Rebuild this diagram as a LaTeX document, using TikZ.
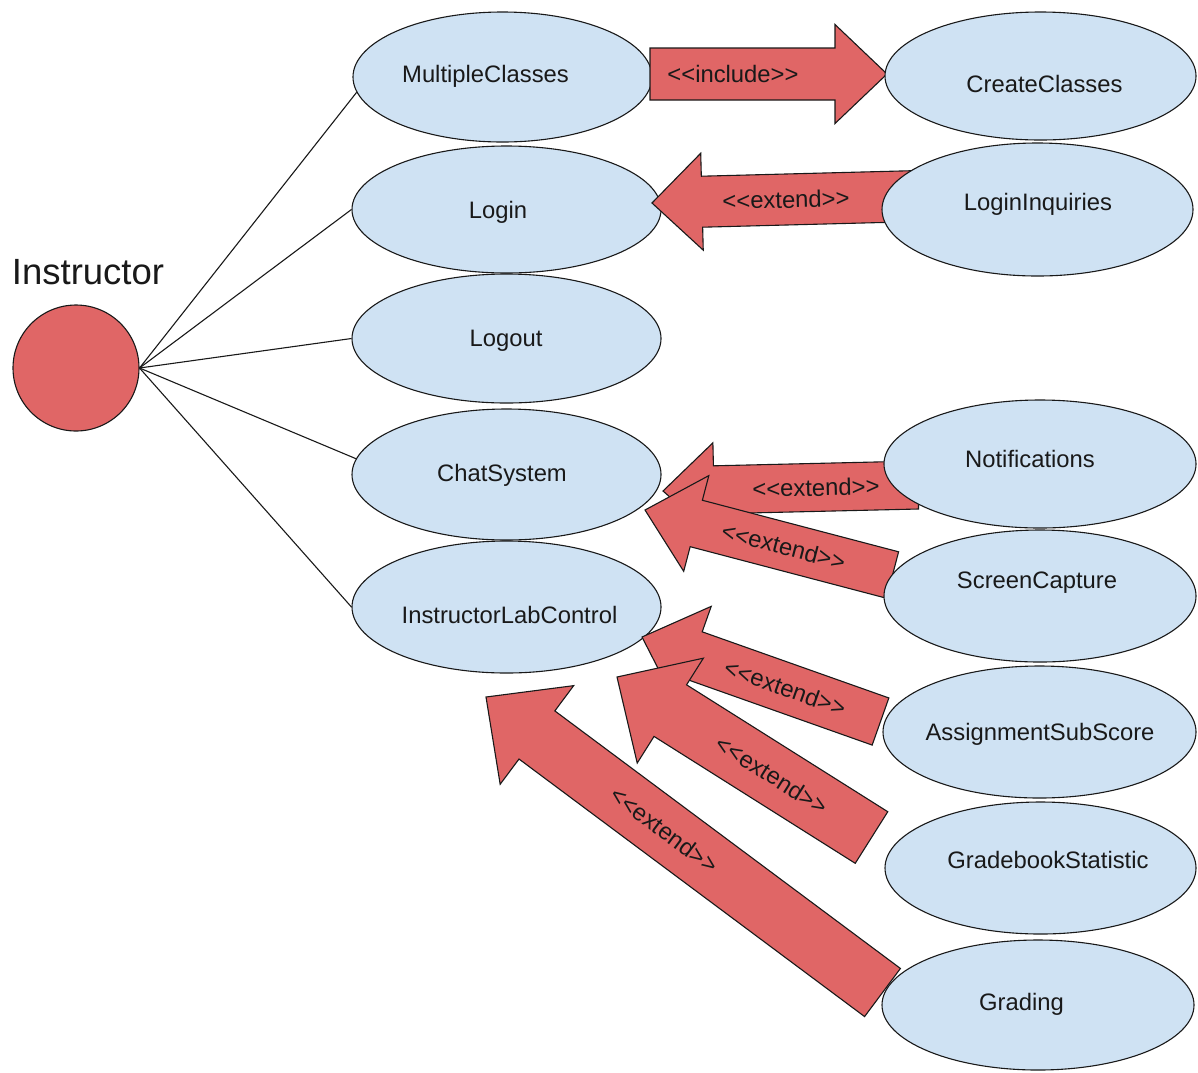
\documentclass[tikz,border=0pt]{standalone}
\usepackage{fontspec}
\setmainfont{Liberation Sans}
\usetikzlibrary{calc,shapes.geometric}

\definecolor{ucblue}{HTML}{CFE2F3}
\definecolor{ucred}{HTML}{E06666}

\tikzset{
  usecase/.style={ellipse, draw=black!90, line width=1.1pt, fill=ucblue, inner sep=0pt},
  uclabel/.style={anchor=base, inner sep=0pt, text=black!90,
    font=\fontsize{23.8}{28}\selectfont},
  actorstyle/.style={circle, draw=black!90, line width=1.1pt, fill=ucred,
    inner sep=0pt, minimum size=126pt},
  assoc/.style={draw=black!90, line width=1.1pt},
  fatarrow/.style={fill=ucred, draw=black!90, line width=1.1pt, line join=miter},
  arrowlabel/.style={sloped, inner sep=0pt, text=black!90,
    font=\fontsize{23.8}{28}\selectfont},
}

% Block arrow from tail #1 to tip #2:
% #3 shaft half-width, #4 head half-width, #5 head length
\newcommand\fatarrowpath[5]{%
  \path ($(#2)!#5!(#1)$) coordinate (headbase);
  \draw[fatarrow]
    ($(#1)!#3!90:(#2)$) -- ($(headbase)!#3!90:(#2)$) --
    ($(headbase)!#4!90:(#2)$) -- (#2) --
    ($(headbase)!#4!-90:(#2)$) -- ($(headbase)!#3!-90:(#2)$) --
    ($(#1)!#3!-90:(#2)$) -- cycle;
}

\begin{document}
\begin{tikzpicture}[x=1pt, y=-1pt]
\useasboundingbox (0,0) rectangle (1198,1072);

% use cases on the left
\node[usecase, minimum width=299pt, minimum height=130pt] (mc) at (502.5,77) {};
\node[uclabel] (mc-t) at (485.5,82) {MultipleClasses};
\node[usecase, minimum width=309pt, minimum height=127pt] (login) at (506.5,209.5) {};
\node[uclabel] (login-t) at (498,218) {Login};
\node[usecase, minimum width=309pt, minimum height=129pt] (logout) at (506.5,338.5) {};
\node[uclabel] (logout-t) at (506,346) {Logout};
\node[usecase, minimum width=309pt, minimum height=131pt] (chat) at (506.5,474.5) {};
\node[uclabel] (chat-t) at (502,481) {ChatSystem};
\node[usecase, minimum width=309pt, minimum height=132pt] (ilc) at (506.5,607) {};
\node[uclabel] (ilc-t) at (509.5,623) {InstructorLabControl};

% actor
\node[actorstyle] (actor) at (76,368) {};
\node[anchor=base, inner sep=0pt, text=black!90, font=\fontsize{36.5}{40}\selectfont]
  (actor-t) at (88,284) {Instructor};

% associations
\draw[assoc] (actor.east) -- (mc.186);
\draw[assoc] (actor.east) -- (login.west);
\draw[assoc] (actor.east) -- (logout.west);
\draw[assoc] (actor.east) -- (chat.174);
\draw[assoc] (actor.east) -- (ilc.west);

% arrow end points
\coordinate (a1s) at (650,74);    \coordinate (a1e) at (887,74);
\coordinate (a2s) at (920,196);   \coordinate (a2e) at (652,203);
\coordinate (a3s) at (918,485);   \coordinate (a3e) at (663,491);
\coordinate (a4s) at (892.5,575); \coordinate (a4e) at (645,510);
\coordinate (a5s) at (880.5,721.5); \coordinate (a5e) at (642,637);
\coordinate (a6s) at (871.5,837.5); \coordinate (a6e) at (617,677);
\coordinate (a7s) at (882.5,992.5); \coordinate (a7e) at (486,697);

% include / extend arrows
\fatarrowpath{a1s}{a1e}{26pt}{49.5pt}{52pt}
\path (a1s) -- (a1e) node[arrowlabel, pos=0.35] (a1-t) {<{}<include>{}>};
\fatarrowpath{a2s}{a2e}{25.5pt}{48.5pt}{50pt}
\path (a2s) -- (a2e) node[arrowlabel, pos=0.5] (a2-t) {<{}<extend>{}>};
\fatarrowpath{a3s}{a3e}{24pt}{47pt}{51pt}
\path (a3s) -- (a3e) node[arrowlabel, pos=0.40] (a3-t) {<{}<extend>{}>};
\fatarrowpath{a4s}{a4e}{24pt}{49.5pt}{53pt}
\path (a4s) -- (a4e) node[arrowlabel, pos=0.44] (a4-t) {<{}<extend>{}>};
\fatarrowpath{a5s}{a5e}{25pt}{52pt}{55pt}
\path (a5s) -- (a5e) node[arrowlabel, pos=0.40] (a5-t) {<{}<extend>{}>};
\fatarrowpath{a6s}{a6e}{30.5pt}{62pt}{63pt}
\path (a6s) -- (a6e) node[arrowlabel, pos=0.39] (a6-t) {<{}<extend>{}>};
\fatarrowpath{a7s}{a7e}{30pt}{61.5pt}{63.5pt}
\path (a7s) -- (a7e) node[arrowlabel, pos=0.55] (a7-t) {<{}<extend>{}>};

% use cases on the right
\node[usecase, minimum width=311pt, minimum height=128pt] (cc) at (1040.5,76) {};
\node[uclabel] (cc-t) at (1044.5,92) {CreateClasses};
\node[usecase, minimum width=311pt, minimum height=133pt] (li) at (1037.5,209.5) {};
\node[uclabel] (li-t) at (1038,210) {LoginInquiries};
\node[usecase, minimum width=312pt, minimum height=128pt] (notif) at (1040,464) {};
\node[uclabel] (notif-t) at (1030,467) {Notifications};
\node[usecase, minimum width=312pt, minimum height=132pt] (sc) at (1040,596) {};
\node[uclabel] (sc-t) at (1037,588) {ScreenCapture};
\node[usecase, minimum width=313pt, minimum height=132pt] (ass) at (1039.5,732) {};
\node[uclabel] (ass-t) at (1040,740) {AssignmentSubScore};
\node[usecase, minimum width=311pt, minimum height=132pt] (gs) at (1040.5,868) {};
\node[uclabel] (gs-t) at (1048,868) {GradebookStatistic};
\node[usecase, minimum width=312pt, minimum height=130pt] (grad) at (1038,1005) {};
\node[uclabel] (grad-t) at (1021.5,1010) {Grading};
\end{tikzpicture}
\end{document}
